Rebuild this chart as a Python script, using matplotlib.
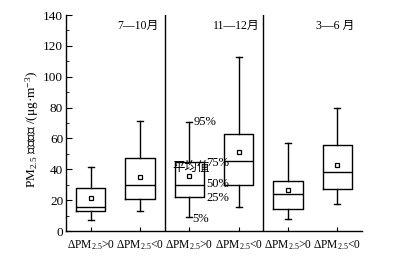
import matplotlib
matplotlib.use('Agg')
import matplotlib.pyplot as plt
from matplotlib.ticker import MultipleLocator

# data (5%, 25%, 50%, 75%, 95%, mean)
p05 = [7.1, 12.8, 8.9, 15.8, 7.8, 17.5]
p25 = [13.0, 20.5, 22.0, 29.6, 14.0, 27.2]
p50 = [15.8, 29.6, 30.0, 45.6, 24.0, 38.2]
p75 = [27.7, 47.3, 44.9, 63.0, 32.4, 55.9]
p95 = [41.7, 71.3, 70.4, 113.0, 57.2, 80.0]
means = [21.2, 35.2, 35.6, 51.2, 26.6, 42.8]
tick_labels = [r'$\Delta$PM$_{2.5}$>0', r'$\Delta$PM$_{2.5}$<0'] * 3
periods = ['7—10月', '11—12月', '3—6 月']
pct_labels = ['95%', '75%', '50%', '25%', '5%']

fonts = ['Liberation Serif', 'Noto Sans CJK SC', 'DejaVu Serif']
plt.rcParams['font.family'] = fonts
plt.rcParams['mathtext.fontset'] = 'custom'
plt.rcParams['mathtext.rm'] = 'Liberation Serif'
plt.rcParams['mathtext.it'] = 'Liberation Serif:italic'
plt.rcParams['mathtext.default'] = 'rm'

fig = plt.figure(figsize=(4.06, 2.6), dpi=100)
ax = fig.add_axes([0.1626, 0.1115, 0.729, 0.8308])

stats = []
for i in range(6):
    stats.append({'whislo': p05[i], 'q1': p25[i], 'med': p50[i], 'q3': p75[i],
                  'whishi': p95[i], 'mean': means[i], 'fliers': []})
pos = list(range(1, 7))
lw = 1.0
ax.bxp(stats, positions=pos, widths=0.6, showmeans=True, showfliers=False,
       boxprops=dict(color='black', linewidth=lw),
       medianprops=dict(color='black', linewidth=lw),
       whiskerprops=dict(color='black', linewidth=lw),
       capprops=dict(color='black', linewidth=lw),
       meanprops=dict(marker='s', markersize=3.5, markerfacecolor='white',
                      markeredgecolor='black', markeredgewidth=0.9),
       capwidths=0.12)

# separators between periods
for xs in [2.5, 4.5]:
    ax.axvline(xs, color='black', linewidth=1.0)

for k, name in enumerate(periods):
    ax.text(1.5 + 2 * k + 0.45, 133, name, ha='center', va='center', fontsize=8.5)

# percentile labels on the third box
fs = 9
ax.text(3.08, p95[2], pct_labels[0], ha='left', va='center', fontsize=fs)
ax.text(3.34, p75[2] - 1, pct_labels[1], ha='left', va='center', fontsize=fs)
ax.text(3.34, p50[2] + 0.5, pct_labels[2], ha='left', va='center', fontsize=fs)
ax.text(3.34, p25[2] - 0.5, pct_labels[3], ha='left', va='center', fontsize=fs)
ax.text(3.05, p05[2] - 1, pct_labels[4], ha='left', va='center', fontsize=fs)
ax.text(2.65, 41, '平均值', ha='left', va='center', fontsize=fs)

ax.set_xlim(0.5, 6.5)
ax.set_ylim(0, 140)
ax.set_xticks(pos)
ax.set_xticklabels(tick_labels, fontsize=8.3)
ax.yaxis.set_major_locator(MultipleLocator(20))
ax.yaxis.set_minor_locator(MultipleLocator(10))
ax.tick_params(axis='y', which='major', direction='in', length=4, labelsize=9.5, pad=2)
ax.tick_params(axis='y', which='minor', direction='in', length=2)
ax.tick_params(axis='x', direction='in', length=3, pad=5)
for s in ['top', 'right']:
    ax.spines[s].set_visible(False)
for s in ['left', 'bottom']:
    ax.spines[s].set_linewidth(1.0)

ax.set_ylabel(r'PM$_{2.5}$ 质量浓度 /(μg·m$^{-3}$)', fontsize=9.5)
ax.yaxis.set_label_coords(-0.085, 0.47)

fig.savefig('out.png', dpi=100)
